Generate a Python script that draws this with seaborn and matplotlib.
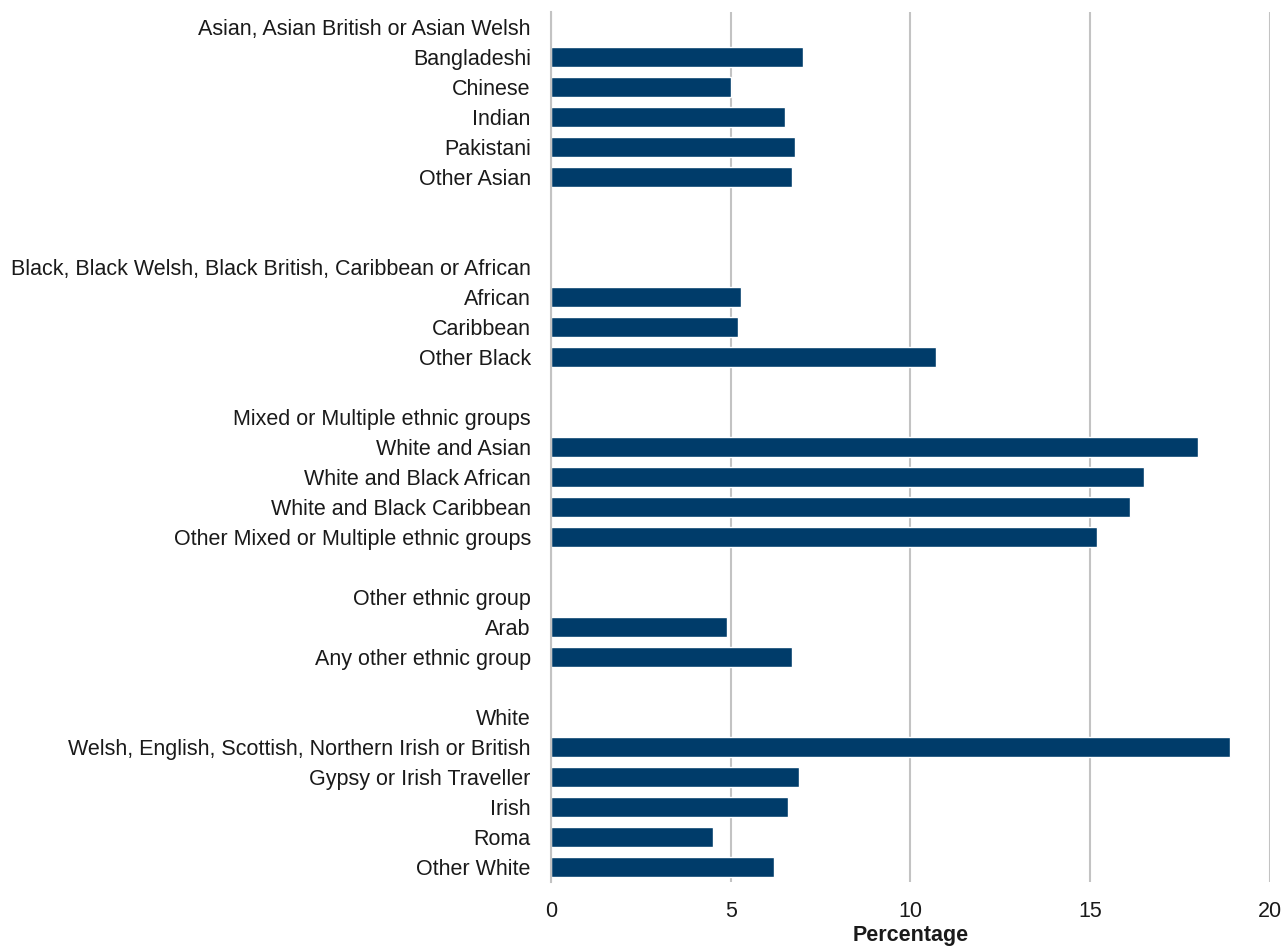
import matplotlib
matplotlib.use("Agg")
import matplotlib.pyplot as plt
import seaborn as sns
import pandas as pd
import numpy as np

sns.set_theme(style="white")
plt.rcParams["font.family"] = ["Liberation Sans", "DejaVu Sans"]

# Row labels, top to bottom; group headers and spacer rows carry no value
labels = [
    "Asian, Asian British or Asian Welsh",
    "Bangladeshi", "Chinese", "Indian", "Pakistani", "Other Asian",
    " ", "  ",
    "Black, Black Welsh, Black British, Caribbean or African",
    "African", "Caribbean", "Other Black",
    "   ",
    "Mixed or Multiple ethnic groups",
    "White and Asian", "White and Black African", "White and Black Caribbean",
    "Other Mixed or Multiple ethnic groups",
    "    ",
    "Other ethnic group",
    "Arab", "Any other ethnic group",
    "     ",
    "White",
    "Welsh, English, Scottish, Northern Irish or British",
    "Gypsy or Irish Traveller", "Irish", "Roma", "Other White",
]
percentages = [
    np.nan,
    7.0, 5.0, 6.5, 6.8, 6.7,
    np.nan, np.nan,
    np.nan,
    5.3, 5.2, 10.7,
    np.nan,
    np.nan,
    18.0, 16.5, 16.1, 15.2,
    np.nan,
    np.nan,
    4.9, 6.7,
    np.nan,
    np.nan,
    18.9, 6.9, 6.6, 4.5, 6.2,
]
x_ticks = [0, 5, 10, 15, 20]

df = pd.DataFrame({"label": labels, "pct": percentages})

fig = plt.figure(figsize=(12.85, 9.48), dpi=100)
ax = fig.add_axes([0.4288, 0.0696, 0.5593, 0.9177])

sns.barplot(data=df, x="pct", y="label", order=labels, color="#003c6a",
            saturation=1, width=0.64, orient="h", ax=ax, errorbar=None)

ax.set_xlim(0, 20)
ax.set_ylim(len(labels) - 0.5, -0.5)
ax.set_xticks(x_ticks)
ax.set_xticklabels([str(t) for t in x_ticks], fontsize=15.5, color="#1a1a1a")
ax.tick_params(axis="y", labelsize=15.5, labelcolor="#1a1a1a", length=0, pad=14.5)
ax.tick_params(axis="x", length=0, pad=14)
ax.set_ylabel("")
ax.set_xlabel("Percentage", fontsize=15.5, fontweight="bold", color="#1a1a1a", labelpad=2)

ax.xaxis.grid(True, color="#c3c3c3", linewidth=1.5)
ax.set_axisbelow(True)
for side in ["top", "right", "bottom"]:
    ax.spines[side].set_visible(False)
ax.spines["left"].set_color("#c3c3c3")
ax.spines["left"].set_linewidth(1.5)

fig.savefig("out.png", dpi=100, facecolor="white")
